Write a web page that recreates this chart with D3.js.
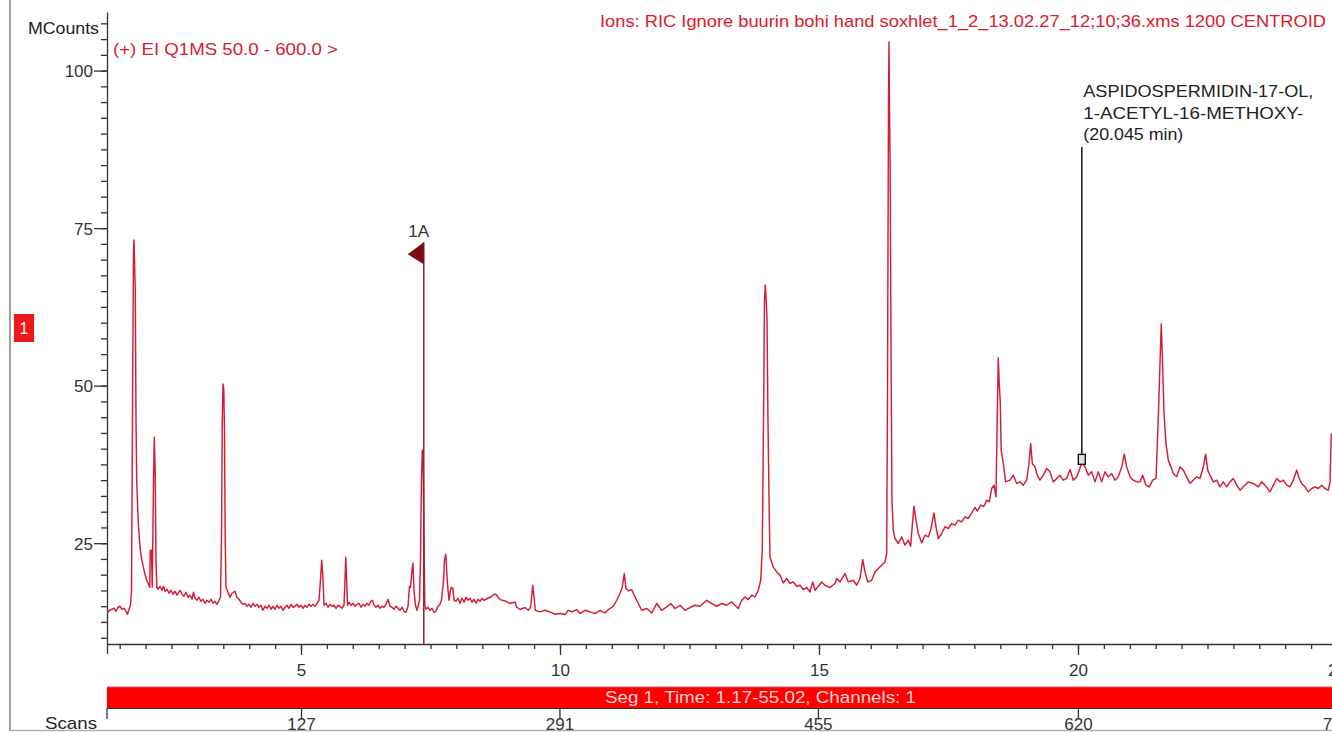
<!DOCTYPE html>
<html><head><meta charset="utf-8">
<script src="https://cdn.jsdelivr.net/npm/d3@7"></script>
<style>
html,body{margin:0;padding:0;background:#fff;overflow:hidden}
svg{display:block;font-family:"Liberation Sans",Arial,Helvetica,sans-serif}
</style>
</head><body>
<svg id="c" width="1332" height="732"></svg>
<script>
// ---------------- DATA ----------------
const timeMin = [
1.255,1.303,1.351,1.390,1.429,1.467,1.506,1.544,1.583,1.622,1.651,1.680,1.708,1.728,1.747,1.766,1.776,1.790,1.801,1.815,
1.828,1.859,1.892,1.921,1.956,1.988,2.021,2.056,2.081,2.091,2.114,2.129,2.153,2.168,2.185,2.201,2.216,2.239,2.278,2.317,
2.346,2.375,2.413,2.452,2.490,2.529,2.568,2.606,2.664,2.703,2.741,2.780,2.819,2.857,2.896,2.925,2.954,2.992,3.031,3.069,
3.108,3.147,3.185,3.224,3.263,3.301,3.340,3.378,3.417,3.446,3.465,3.481,3.494,3.510,3.523,3.537,3.552,3.591,3.629,3.668,
3.726,3.764,3.803,3.842,3.880,3.919,3.958,3.996,4.035,4.073,4.112,4.151,4.189,4.228,4.266,4.305,4.344,4.382,4.421,4.459,
4.498,4.537,4.575,4.614,4.653,4.691,4.730,4.768,4.807,4.846,4.884,4.923,4.961,5.000,5.039,5.077,5.116,5.154,5.193,5.232,
5.270,5.309,5.347,5.376,5.400,5.415,5.425,5.444,5.483,5.521,5.560,5.598,5.637,5.676,5.714,5.753,5.792,5.830,5.849,5.865,
5.878,5.898,5.927,5.965,6.004,6.042,6.081,6.120,6.158,6.197,6.236,6.274,6.313,6.351,6.380,6.409,6.448,6.486,6.525,6.564,
6.602,6.641,6.680,6.718,6.757,6.795,6.834,6.873,6.911,6.950,6.988,7.027,7.066,7.095,7.114,7.143,7.162,7.181,7.210,7.239,
7.288,7.307,7.326,7.342,7.359,7.375,7.390,7.413,7.452,7.490,7.529,7.568,7.606,7.645,7.683,7.712,7.732,7.751,7.770,7.793,
7.809,7.819,7.838,7.857,7.886,7.905,7.934,7.954,7.992,8.031,8.069,8.108,8.147,8.185,8.224,8.263,8.301,8.340,8.378,8.417,
8.456,8.494,8.533,8.571,8.610,8.649,8.687,8.726,8.764,8.803,8.842,8.938,9.035,9.131,9.164,9.228,9.324,9.388,9.434,9.473,
9.498,9.523,9.614,9.710,9.807,9.903,10.000,10.097,10.160,10.226,10.322,10.386,10.483,10.579,10.676,10.772,10.869,10.932,11.029,11.095,
11.158,11.203,11.241,11.274,11.319,11.384,11.448,11.512,11.577,11.674,11.770,11.867,11.963,12.060,12.137,12.220,12.317,12.413,12.510,12.606,
12.703,12.832,12.929,13.025,13.122,13.218,13.315,13.378,13.442,13.508,13.571,13.635,13.701,13.764,13.828,13.875,13.905,13.929,13.948,13.963,
13.981,13.996,14.015,14.041,14.054,14.118,14.183,14.247,14.311,14.376,14.440,14.504,14.569,14.633,14.697,14.763,14.826,14.878,14.923,14.987,
15.052,15.116,15.212,15.309,15.342,15.405,15.502,15.566,15.662,15.728,15.792,15.844,15.888,15.940,16.017,16.081,16.145,16.210,16.274,16.307,
16.322,16.342,16.351,16.363,16.375,16.390,16.409,16.434,16.467,16.531,16.596,16.660,16.724,16.770,16.809,16.834,16.873,16.917,16.983,17.046,
17.110,17.156,17.220,17.259,17.303,17.369,17.432,17.496,17.562,17.625,17.689,17.755,17.819,17.882,17.948,18.012,18.056,18.122,18.185,18.237,
18.288,18.334,18.378,18.417,18.440,18.461,18.481,18.498,18.517,18.558,18.604,18.687,18.751,18.817,18.880,18.944,19.010,19.054,19.087,19.118,
19.170,19.214,19.266,19.330,19.396,19.459,19.523,19.589,19.653,19.716,19.782,19.846,19.909,19.975,20.025,20.071,20.135,20.199,20.264,20.328,
20.392,20.457,20.521,20.585,20.651,20.714,20.778,20.844,20.894,20.940,21.004,21.068,21.133,21.197,21.249,21.313,21.376,21.442,21.506,21.550,
21.589,21.608,21.627,21.660,21.699,21.743,21.795,21.840,21.905,21.969,22.033,22.098,22.162,22.226,22.291,22.355,22.419,22.465,22.504,22.548,
22.612,22.678,22.741,22.805,22.871,22.934,22.998,23.064,23.127,23.191,23.288,23.384,23.481,23.546,23.610,23.707,23.770,23.836,23.900,23.963,
24.029,24.093,24.156,24.222,24.272,24.319,24.382,24.446,24.511,24.575,24.639,24.705,24.768,24.832,24.865,24.890
];
const mcounts = [
13.88,14.35,14.51,14.67,14.19,14.83,14.99,14.51,14.67,14.19,13.72,14.51,15.15,17.21,44.53,71.53,73.12,68.35,65.18,44.53,
35.00,28.17,24.36,22.61,21.19,20.07,19.12,18.48,18.01,23.89,23.89,18.01,35.00,41.83,36.59,22.30,18.01,17.69,18.16,17.53,
18.16,17.37,17.69,17.05,17.53,16.89,17.37,16.74,17.53,16.89,16.58,17.21,16.42,16.74,16.10,17.21,16.26,15.94,16.42,15.78,
16.10,15.46,15.94,15.62,16.10,15.46,15.78,15.30,15.94,16.42,25.47,44.53,50.25,49.29,42.94,25.47,18.01,17.21,16.42,17.05,
17.37,16.42,16.10,15.62,15.30,15.46,14.99,15.30,14.83,15.46,14.99,15.30,14.83,15.15,14.35,14.99,14.67,15.15,14.51,14.99,
14.51,15.15,14.67,14.99,14.35,14.83,15.15,14.67,15.30,14.83,14.99,15.30,14.83,15.15,14.67,15.15,14.83,15.30,14.99,15.30,
14.99,15.46,15.94,19.12,22.30,20.71,19.12,15.15,15.46,14.83,15.30,14.99,15.15,14.67,15.15,14.99,14.67,15.15,19.12,22.77,
19.93,15.15,15.62,15.15,15.46,14.99,15.30,15.46,14.83,15.30,14.99,15.46,15.15,15.78,15.94,15.15,14.83,15.15,14.67,14.99,
14.83,15.30,16.10,14.99,14.83,14.51,14.99,14.67,14.35,14.83,14.19,14.03,14.99,18.16,18.01,20.71,21.82,17.53,15.15,14.35,
15.94,22.30,35.00,39.76,38.18,25.47,15.15,14.51,14.83,14.35,14.67,14.03,14.19,14.99,15.30,15.94,17.53,19.12,22.30,23.25,
21.50,19.60,17.53,15.94,17.53,18.01,17.85,15.94,15.78,16.26,15.46,16.26,15.62,16.42,15.94,16.26,15.62,16.10,15.46,16.10,
15.78,16.26,15.94,16.10,16.26,16.42,16.58,16.89,16.89,16.42,16.05,15.83,15.42,15.67,14.88,14.47,14.79,14.35,14.88,18.32,
16.47,14.35,14.09,14.35,14.09,13.72,13.83,13.67,14.35,14.09,14.47,13.83,14.35,14.09,13.83,14.35,13.93,14.47,14.99,15.94,
17.01,18.06,20.18,17.80,17.42,17.64,16.47,15.42,14.35,14.63,13.93,15.42,14.35,14.88,15.42,14.63,15.15,14.35,14.79,15.15,
14.99,15.94,15.42,14.99,15.42,15.15,15.67,15.15,14.63,15.94,16.47,16.05,16.74,16.47,17.53,19.12,23.89,44.53,63.59,65.97,
63.59,60.73,44.53,28.65,22.82,21.23,20.44,19.93,18.69,19.39,18.60,18.85,18.16,18.32,17.64,17.96,17.26,18.85,17.53,18.16,
18.85,18.32,17.96,18.60,19.39,18.85,20.18,18.85,19.12,18.32,19.39,22.41,20.44,18.85,19.12,20.44,20.98,21.50,22.03,23.36,
47.71,95.35,104.56,92.17,84.23,55.65,31.83,27.06,25.74,24.95,26.00,24.68,25.47,24.52,28.65,30.87,28.65,26.54,25.05,26.27,
26.00,27.06,29.81,27.59,25.74,26.54,27.59,27.33,28.12,27.85,28.65,28.38,29.17,28.92,29.81,30.66,30.12,31.03,30.87,31.83,
31.56,33.68,34.21,32.35,44.53,54.38,50.09,47.71,39.76,37.65,34.73,35.00,35.79,34.48,34.73,34.21,35.00,37.65,40.83,37.65,
37.11,35.79,35.00,35.79,36.86,36.32,34.73,35.27,35.79,35.00,35.27,36.70,35.00,35.53,36.59,37.75,37.11,35.79,36.32,34.73,
36.32,34.73,36.32,35.53,36.06,35.00,35.53,37.11,39.13,37.11,35.53,35.00,34.73,34.73,35.79,34.21,33.94,35.00,35.27,44.80,
55.12,59.78,55.12,45.59,40.83,38.18,37.11,36.06,35.53,37.11,36.59,35.53,34.48,35.00,35.53,35.27,37.11,39.13,36.59,35.79,
34.73,35.00,33.94,34.73,33.94,34.73,35.27,34.21,33.41,33.94,34.73,34.48,33.94,34.73,34.21,33.15,34.21,35.27,34.73,35.00,
34.21,33.94,35.00,36.59,35.27,34.48,33.94,33.15,33.68,33.94,33.68,34.21,33.68,33.41,34.73,42.42
];
const yMajorTicks = [25, 50, 75, 100];
const xMajorTicks = [5, 10, 15, 20, 25];
const scanTicks = [127, 291, 455, 620, 784];
const markerTime = 7.37, markerLabel = "1A", markerLevel = 71;
const annoTime = 20.045, annoLevel = 38.3;
const annoLines = ["ASPIDOSPERMIDIN-17-OL,", "1-ACETYL-16-METHOXY-", "(20.045 min)"];
const titleText = "Ions: RIC Ignore buurin bohi hand soxhlet_1_2_13.02.27_12;10;36.xms 1200 CENTROID";
const scanText = "(+) EI Q1MS 50.0 - 600.0 >";
const segText = "Seg 1, Time: 1.17-55.02, Channels: 1";

// ---------------- LAYOUT ----------------
const svg = d3.select("#c");
const x0 = 107, pxPerMin = 51.8;
const tMin = 1.255, tMax = 26;
const x = d3.scaleLinear().domain([tMin, tMax]).range([x0, x0 + (tMax - tMin) * pxPerMin]);
const y = d3.scaleLinear().domain([9, 109.3]).range([644, 12]);
const scanAt = t => 127 + (t - 5) * 32.87;
const xs = d3.scaleLinear().domain([scanAt(tMin), scanAt(tMax)]).range(x.range());
const axisCol = "#333";
const FONT = 17;

// frame
svg.append("line").attr("x1", 10).attr("x2", 10).attr("y1", 0).attr("y2", 731)
  .attr("stroke", "#a0a0a0").attr("stroke-width", 2);
svg.append("line").attr("x1", 10).attr("x2", 1332).attr("y1", 730.5).attr("y2", 730.5)
  .attr("stroke", "#b0b0b0").attr("stroke-width", 1.5);

// Y axis
const gy = svg.append("g").attr("transform", `translate(${x0},0)`).style("color", axisCol);
gy.call(d3.axisLeft(y).tickValues(d3.range(10, 108, 2.5)).tickSize(6).tickSizeOuter(0).tickFormat(""));
const gyM = svg.append("g").attr("transform", `translate(${x0},0)`).style("color", axisCol);
gyM.call(d3.axisLeft(y).tickValues(yMajorTicks).tickSize(13).tickSizeOuter(0).tickPadding(1));
gyM.select(".domain").remove();
gyM.selectAll("text").attr("font-size", FONT).attr("fill", "#333").attr("font-family", "inherit").attr("dy", "0.36em");
gy.selectAll("line,path").attr("stroke-width", 1.3);
gyM.selectAll("line").attr("stroke-width", 1.3);

// X axis
const gx = svg.append("g").attr("transform", "translate(0,644)").style("color", axisCol);
gx.call(d3.axisBottom(x).tickValues(d3.range(1.5, 26, 0.5)).tickSize(5).tickSizeOuter(10).tickFormat(""));
const gxM = svg.append("g").attr("transform", "translate(0,644)").style("color", axisCol);
gxM.call(d3.axisBottom(x).tickValues(xMajorTicks).tickSize(11).tickSizeOuter(0).tickPadding(9).tickFormat(d3.format("d")));
gxM.select(".domain").remove();
gxM.selectAll("text").attr("font-size", FONT).attr("fill", "#333").attr("font-family", "inherit");
gx.selectAll("line,path").attr("stroke-width", 1.3);
gxM.selectAll("line").attr("stroke-width", 1.3);

// trace
svg.append("defs").append("clipPath").attr("id", "plot")
  .append("rect").attr("x", x0).attr("y", 0).attr("width", 1332 - x0).attr("height", 644);
const data = d3.zip(timeMin, mcounts);
svg.append("path").datum(data)
  .attr("clip-path", "url(#plot)")
  .attr("fill", "none").attr("stroke", "#d41c36").attr("stroke-width", 1.45)
  .attr("stroke-linejoin", "round")
  .attr("d", d3.line().x(d => x(d[0])).y(d => y(d[1])));

// marker 1A
const mx = x(markerTime);
svg.append("line").attr("x1", mx).attr("x2", mx).attr("y1", y(markerLevel) - 11).attr("y2", 644)
  .attr("stroke", "#8c2a3a").attr("stroke-width", 1.6);
svg.append("path")
  .attr("d", `M${mx},${y(markerLevel) - 11}L${mx},${y(markerLevel) + 11}L${mx - 16},${y(markerLevel) + 1}Z`)
  .attr("fill", "#7d0a12");
svg.append("text").attr("x", mx - 5).attr("y", y(markerLevel) - 16).attr("text-anchor", "middle")
  .attr("font-size", FONT).attr("fill", "#333").text(markerLabel);

// annotation
const ax = x(annoTime), ay = y(annoLevel);
svg.append("line").attr("x1", ax + 1.5).attr("x2", ax + 1.5).attr("y1", 147).attr("y2", ay - 5)
  .attr("stroke", "#222").attr("stroke-width", 1.6);
svg.append("rect").attr("x", ax - 2).attr("y", ay - 5).attr("width", 7).attr("height", 10)
  .attr("fill", "#ddd").attr("stroke", "#111").attr("stroke-width", 1.4);
const annoW = [230, 220, 100];
annoLines.forEach((s, i) => {
  svg.append("text").attr("x", ax + 3).attr("y", 97 + i * 21.5)
    .attr("font-size", 16.5).attr("fill", "#222")
    .attr("textLength", annoW[i]).attr("lengthAdjust", "spacingAndGlyphs").text(s);
});

// titles
svg.append("text").attr("x", 28).attr("y", 34).attr("font-size", FONT).attr("fill", "#222")
  .attr("textLength", 71).attr("lengthAdjust", "spacingAndGlyphs").text("MCounts");
svg.append("text").attr("x", 113).attr("y", 55).attr("font-size", 16.5).attr("fill", "#d42038")
  .attr("textLength", 225).attr("lengthAdjust", "spacingAndGlyphs").text(scanText);
svg.append("text").attr("x", 600).attr("y", 27).attr("font-size", 16.5).attr("fill", "#e0182e")
  .attr("textLength", 726).attr("lengthAdjust", "spacingAndGlyphs").text(titleText);

// channel box
svg.append("rect").attr("x", 14).attr("y", 314).attr("width", 20).attr("height", 28).attr("fill", "#f01818");
svg.append("text").attr("x", 24).attr("y", 334).attr("text-anchor", "middle")
  .attr("font-size", 16).attr("fill", "#fff").text("1");

// segment bar
svg.append("rect").attr("x", x0).attr("y", 687).attr("width", 1332 - x0).attr("height", 21.5).attr("fill", "#ff0000");
svg.append("line").attr("x1", x0).attr("x2", 1332).attr("y1", 708.5).attr("y2", 708.5).attr("stroke", "#333").attr("stroke-width", 1.2);
svg.append("line").attr("x1", x0).attr("x2", 1332).attr("y1", 687).attr("y2", 687).attr("stroke", "#e05050").attr("stroke-width", 1);
svg.append("text").attr("x", 605).attr("y", 703).attr("font-size", 16).attr("fill", "#ffd6d6")
  .attr("textLength", 311).attr("lengthAdjust", "spacingAndGlyphs").text(segText);

// scans axis
const gs = svg.append("g").attr("transform", "translate(0,708.5)").style("color", axisCol);
gs.call(d3.axisBottom(xs).tickValues(scanTicks).tickSize(11).tickSizeOuter(0).tickPadding(-2).tickFormat(d3.format("d")));
gs.select(".domain").remove();
gs.selectAll("text").attr("font-size", FONT).attr("fill", "#333").attr("font-family", "inherit");
gs.selectAll("line").attr("stroke-width", 1.3);
svg.append("line").attr("x1", x0).attr("x2", x0).attr("y1", 708).attr("y2", 719).attr("stroke", axisCol).attr("stroke-width", 1.3);
svg.append("text").attr("x", 97).attr("y", 729).attr("text-anchor", "end").attr("font-size", FONT).attr("fill", "#222")
  .attr("textLength", 52).attr("lengthAdjust", "spacingAndGlyphs").text("Scans");
</script>
</body></html>
